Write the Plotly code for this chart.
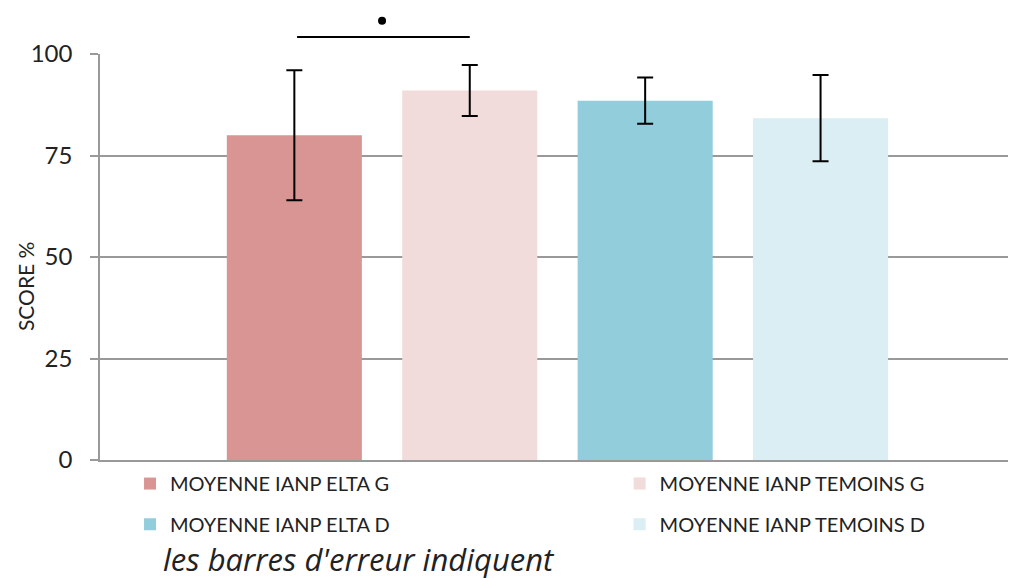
import plotly.graph_objects as go

series_names = ["MOYENNE IANP ELTA G", "MOYENNE IANP TEMOINS G",
                "MOYENNE IANP ELTA D", "MOYENNE IANP TEMOINS D"]
means = [80.0, 91.0, 88.5, 84.2]
errors = [16.0, 6.3, 5.7, 10.6]
colors = ["#D99594", "#F2DBDB", "#92CDDC", "#DAEEF3"]
y_ticks = [0, 25, 50, 75, 100]
category = [""]

FONT = "Lato"
bargap = 0.229
bargroupgap = 0.23

# page offset (browser body margin) compensation
L, R, T, B = 92, 14, 46, 126
PW = 1016 - L - R
PH = 578 - T - B

legend_ids = ["legend", "legend2", "legend3", "legend4"]
legend_pos = [(0.033, -0.010), (0.571, -0.010), (0.033, -0.110), (0.571, -0.110)]

fig = go.Figure()
for name, m, e, c, lg in zip(series_names, means, errors, colors, legend_ids):
    fig.add_trace(go.Bar(
        x=category, y=[m], name=name, marker=dict(color=c, line=dict(width=0)),
        error_y=dict(type="data", array=[e], visible=True, color="black",
                     thickness=2, width=8),
        legend=lg,
    ))

# significance bracket between the two G bars
n = len(means)
slot = (1 - bargap) / n
centers = [-(1 - bargap) / 2 + slot * (i + 0.5) for i in range(n)]
mid = (centers[0] + centers[1]) / 2
fig.add_shape(type="line", xref="x", yref="paper",
              x0=centers[0] + 0.003, x1=centers[1],
              y0=1.042, y1=1.042, line=dict(color="black", width=2))
fig.add_shape(type="circle", xref="x", yref="paper",
              xsizemode="pixel", ysizemode="pixel",
              xanchor=mid, yanchor=1.082, x0=-4, x1=4, y0=-4, y1=4,
              fillcolor="black", line=dict(color="black", width=0))

fig.add_annotation(xref="paper", yref="paper", x=(161 - 100) / PW, y=-0.245,
                   xanchor="left", yanchor="middle",
                   text="<i>les barres d'erreur indiquent</i>", showarrow=False,
                   font=dict(size=31, color="#222", family="Open Sans"))

fig.add_annotation(xref="paper", yref="paper", x=(25 - 100) / PW, y=0.426,
                   xanchor="center", yanchor="middle", textangle=-90,
                   text="SCORE %", showarrow=False,
                   font=dict(size=21, color="#222", family=FONT))

legends = {}
for lg, (lx, ly) in zip(legend_ids, legend_pos):
    legends[lg] = dict(orientation="h", x=lx, y=ly, xanchor="left", yanchor="top",
                       bgcolor="rgba(0,0,0,0)",
                       font=dict(size=20, color="#222", family=FONT),
                       itemwidth=30)

fig.update_layout(
    width=1016, height=578,
    margin=dict(l=L, r=R, t=T, b=B, autoexpand=False),
    paper_bgcolor="white", plot_bgcolor="white",
    barmode="group", bargap=bargap, bargroupgap=bargroupgap,
    font=dict(family=FONT, size=20, color="#222"),
    showlegend=True,
    **legends,
    xaxis=dict(showticklabels=False, showline=True, linecolor="#999", linewidth=1.5,
               ticks="", showgrid=False, range=[-0.5027, 0.4973]),
    yaxis=dict(range=[0, 100], tickvals=y_ticks, showgrid=True, gridcolor="#999",
               gridwidth=1.5, showline=True, linecolor="#999", linewidth=1.5,
               ticks="outside", ticklen=8, tickcolor="#999", tickwidth=1.5,
               ticklabelstandoff=13,
               tickfont=dict(size=24, color="#222"), zeroline=False),
)

fig.write_html("out.html")
